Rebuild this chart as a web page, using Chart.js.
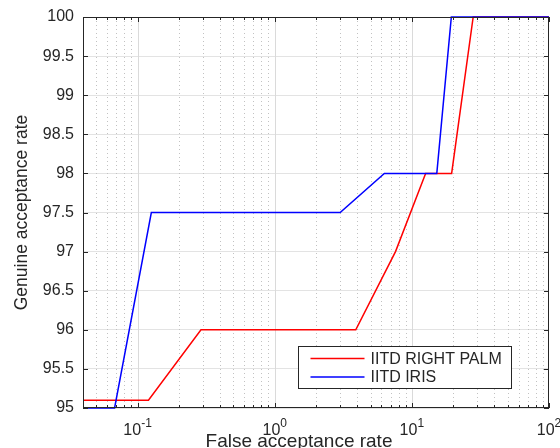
<!DOCTYPE html>
<html>
<head>
<meta charset="utf-8">
<script src="https://cdn.jsdelivr.net/npm/chart.js@4"></script>
<style>
html,body{margin:0;padding:0;background:#fff}
#caixa{width:560px;height:448px;position:relative}
</style>
</head>
<body>
<div id="caixa"><canvas id="grafico"></canvas></div>
<script>
let palmaX = [0.04, 0.12, 0.29, 3.9, 7.6, 12.6, 19.5, 28, 100]
let palmaY = [95.1, 95.1, 96, 96, 97, 98, 98, 100, 100]

let irisX = [0.04, 0.068, 0.126, 3.0, 6.3, 15.2, 19.4, 100]
let irisY = [95, 95, 97.5, 97.5, 98, 98, 100, 100]

let nomes = ["IITD RIGHT PALM", "IITD IRIS"]
let cores = ["#ff0000", "#0000ff"]

let decadas = [0.1, 1, 10, 100]
let expoentes = ["-1", "0", "1", "2"]
let rotulosY = [95, 95.5, 96, 96.5, 97, 97.5, 98, 98.5, 99, 99.5, 100]

let tituloX = "False acceptance rate"
let tituloY = "Genuine acceptance rate"

let xMin = 0.04
let xMax = 100

let fonte = "'Liberation Sans', Arial, sans-serif"
let corTexto = "#262626"

// marcas menores do eixo log (2..9 em cada decada)
let marcasX = []
for (let d = 0.01; d <= xMax * 1.0001; d *= 10) {
  for (let m = 1; m <= 9; m++) {
    let v = m === 1 ? decadas.find(k => Math.abs(k - d) < d * 1e-6) || d : m * d
    if (v >= xMin - 1e-9 && v <= xMax * 1.0001) marcasX.push(v)
  }
}

function pontos(xs, ys) {
  return xs.map((v, i) => ({x: v, y: ys[i]}))
}

function ehDecada(v) {
  return decadas.some(d => Math.abs(d - v) < d * 1e-6)
}

let moldura = {
  id: "moldura",
  beforeDatasetsDraw(chart) {
    let ctx = chart.ctx
    let a = chart.chartArea
    let x = chart.scales.x
    ctx.save()
    ctx.lineWidth = 1
    x.ticks.forEach(t => {
      let px = Math.round(x.getPixelForValue(t.value)) + 0.5
      if (px < a.left + 1 || px > a.right - 1) return
      ctx.beginPath()
      if (ehDecada(t.value)) {
        ctx.strokeStyle = "#dadada"
        ctx.setLineDash([])
      } else {
        ctx.strokeStyle = "#c2c2c2"
        ctx.setLineDash([1, 3])
      }
      ctx.moveTo(px, a.top)
      ctx.lineTo(px, a.bottom)
      ctx.stroke()
    })
    ctx.restore()
  },
  afterDatasetsDraw(chart) {
    let ctx = chart.ctx
    let a = chart.chartArea
    let x = chart.scales.x
    let y = chart.scales.y
    ctx.save()
    ctx.strokeStyle = corTexto
    ctx.lineWidth = 1
    ctx.setLineDash([])

    // marcas para dentro
    x.ticks.forEach(t => {
      let px = Math.round(x.getPixelForValue(t.value)) + 0.5
      let tam = ehDecada(t.value) ? 5 : 3
      ctx.beginPath()
      ctx.moveTo(px, a.bottom)
      ctx.lineTo(px, a.bottom - tam)
      ctx.moveTo(px, a.top)
      ctx.lineTo(px, a.top + tam)
      ctx.stroke()
    })
    y.ticks.forEach(t => {
      let py = Math.round(y.getPixelForValue(t.value)) + 0.5
      ctx.beginPath()
      ctx.moveTo(a.left, py)
      ctx.lineTo(a.left + 5, py)
      ctx.moveTo(a.right, py)
      ctx.lineTo(a.right - 5, py)
      ctx.stroke()
    })

    ctx.strokeRect(Math.round(a.left) + 0.5, Math.round(a.top) + 0.5,
      Math.round(a.width) - 1, Math.round(a.height) - 1)

    // legenda
    let lx = Math.round(a.right) - 250.5
    let ly = Math.round(a.bottom) - 61.5
    ctx.fillStyle = "#fff"
    ctx.fillRect(lx, ly, 213, 42)
    ctx.strokeRect(lx, ly, 213, 42)
    ctx.font = "16px " + fonte
    ctx.textBaseline = "middle"
    nomes.forEach((n, i) => {
      let yy = ly + 12 + i * 18.5
      ctx.strokeStyle = cores[i]
      ctx.lineWidth = 1.5
      ctx.beginPath()
      ctx.moveTo(lx + 12, yy)
      ctx.lineTo(lx + 66, yy)
      ctx.stroke()
      ctx.fillStyle = corTexto
      ctx.fillText(n, lx + 72, yy + 1)
    })
    ctx.restore()
  },
  afterDraw(chart) {
    let ctx = chart.ctx
    let a = chart.chartArea
    let x = chart.scales.x
    ctx.save()
    ctx.fillStyle = corTexto
    ctx.textBaseline = "alphabetic"
    ctx.textAlign = "left"
    decadas.forEach((d, i) => {
      let px = x.getPixelForValue(d)
      ctx.font = "16px " + fonte
      let wb = ctx.measureText("10").width
      ctx.font = "12px " + fonte
      let we = ctx.measureText(expoentes[i]).width
      let x0 = px - (wb + we) / 2
      ctx.font = "16px " + fonte
      ctx.fillText("10", x0, a.bottom + 27)
      ctx.font = "12px " + fonte
      ctx.fillText(expoentes[i], x0 + wb, a.bottom + 19)
    })
    ctx.font = "19px " + fonte
    ctx.textAlign = "center"
    ctx.fillText(tituloX, (a.left + a.right) / 2 - 17, a.bottom + 39)
    ctx.restore()
  }
}

let grafico = new Chart(document.getElementById("grafico"), {
  type: "line",
  data: {
    datasets: [
      {
        label: nomes[0],
        data: pontos(palmaX, palmaY),
        borderColor: cores[0],
        borderWidth: 1.5,
        pointRadius: 0,
        tension: 0,
        clip: 3,
        order: 1
      },
      {
        label: nomes[1],
        data: pontos(irisX, irisY),
        borderColor: cores[1],
        borderWidth: 1.5,
        pointRadius: 0,
        tension: 0,
        clip: 3,
        order: 0
      }
    ]
  },
  options: {
    responsive: true,
    maintainAspectRatio: false,
    animation: false,
    layout: {padding: {top: 17, right: 11, left: 0, bottom: 0}},
    plugins: {
      legend: {display: false},
      tooltip: {enabled: false}
    },
    scales: {
      x: {
        type: "logarithmic",
        min: xMin,
        max: xMax,
        afterBuildTicks(s) {
          s.ticks = marcasX.map(v => ({value: v, major: ehDecada(v)}))
        },
        afterFit(s) {
          s.height = 40
          s.paddingLeft = 0
          s.paddingRight = 0
        },
        grid: {display: false},
        border: {display: false},
        ticks: {
          autoSkip: false,
          maxRotation: 0,
          minRotation: 0,
          callback() {
            return ""
          }
        }
      },
      y: {
        min: 95,
        max: 100,
        afterBuildTicks(s) {
          s.ticks = rotulosY.map(v => ({value: v}))
        },
        afterFit(s) {
          s.width = 83
          s.paddingTop = 0
          s.paddingBottom = 0
        },
        grid: {color: "#e3e3e3", drawTicks: false},
        border: {display: false},
        ticks: {
          padding: 9,
          color: corTexto,
          font: {family: fonte, size: 16},
          callback(v) {
            return String(parseFloat(Number(v).toFixed(1)))
          }
        },
        title: {
          display: true,
          text: tituloY,
          color: corTexto,
          font: {family: fonte, size: 17.5},
          padding: {top: 12, bottom: 0}
        }
      }
    }
  },
  plugins: [moldura]
})
</script>
</body>
</html>
